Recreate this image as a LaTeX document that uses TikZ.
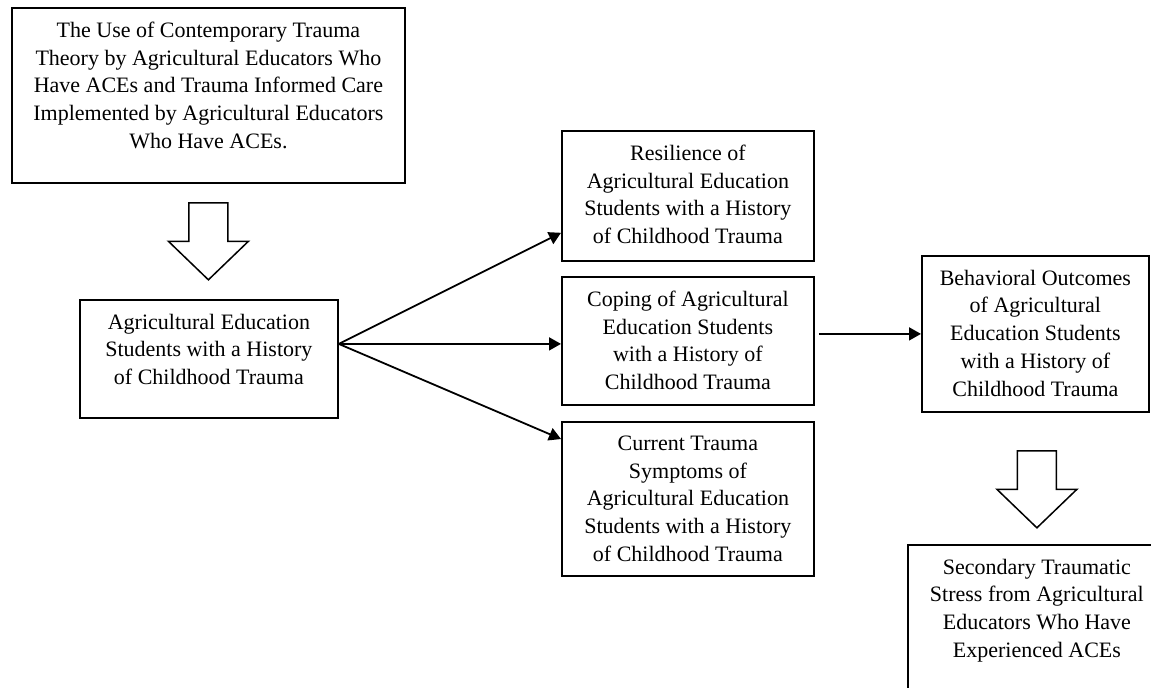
\documentclass[tikz,border=0pt]{standalone}
\usepackage{fontspec}
\setmainfont{Liberation Serif}
\usetikzlibrary{arrows.meta}

\tikzset{
  box/.style={draw, line width=0.9pt, anchor=north west, inner sep=0pt},
  boxtext/.style={anchor=north, align=center, inner sep=0pt,
    font=\fontsize{11}{13.9}\selectfont},
  arr/.style={line width=0.9pt, -{Triangle[length=6pt,width=6.5pt]}},
  hollowarrow/.pic={
    \draw[line width=0.75pt, fill=white] (-9.75,0) -- (-9.75,19.25) -- (-20,19.25)
      -- (0,38.5) -- (20,19.25) -- (9.75,19.25) -- (9.75,0) -- cycle;
  }
}

\begin{document}
\begin{tikzpicture}[x=1pt,y=-1pt]
        \clip (0,0) rectangle (575.5,343.5);
        % boxes
        \node[box, minimum width=196.5pt, minimum height=87.5pt] (use) at (5.5,3.5) {};
        \node[box, minimum width=129pt, minimum height=59pt] (stud) at (39.5,149.5) {};
        \node[box, minimum width=126pt, minimum height=65pt] (res) at (280.5,65) {};
        \node[box, minimum width=126pt, minimum height=64pt] (cop) at (280.5,138) {};
        \node[box, minimum width=126pt, minimum height=77pt] (cur) at (280.5,210.5) {};
        \node[box, minimum width=113.5pt, minimum height=78pt] (outc) at (460.5,127.5) {};
        \node[box, minimum width=129pt, minimum height=90pt] (sec) at (453.5,272) {};
        % texts
        \node[boxtext] (use-t) at ([yshift=-7.2pt]use.north) {The Use of Contemporary Trauma\\Theory by Agricultural Educators Who\\Have ACEs and Trauma Informed Care\\Implemented by Agricultural Educators\\Who Have ACEs.};
        \node[boxtext] (stud-t) at ([yshift=-7.2pt]stud.north) {Agricultural Education\\Students with a History\\of Childhood Trauma};
        \node[boxtext] (res-t) at ([yshift=-7.2pt]res.north) {Resilience of\\Agricultural Education\\Students with a History\\of Childhood Trauma};
        \node[boxtext] (cop-t) at ([yshift=-7.2pt]cop.north) {Coping of Agricultural\\Education Students\\with a History of\\Childhood Trauma};
        \node[boxtext] (cur-t) at ([yshift=-7.2pt]cur.north) {Current Trauma\\Symptoms of\\Agricultural Education\\Students with a History\\of Childhood Trauma};
        \node[boxtext] (outc-t) at ([yshift=-7.2pt]outc.north) {Behavioral Outcomes\\of Agricultural\\Education Students\\with a History of\\Childhood Trauma};
        \node[boxtext] (sec-t) at ([yshift=-7.2pt]sec.north) {Secondary Traumatic\\Stress from Agricultural\\Educators Who Have\\Experienced ACEs};
        % arrows
        \coordinate (fork) at ([yshift=7.5pt]stud.east);
        \draw[arr] (fork) -- ([yshift=14.5pt]res.south west);
        \draw[arr] (fork) -- (cop.west |- fork);
        \draw[arr] (fork) -- ([yshift=-9pt]cur.north west);
        \draw[arr] ([xshift=2pt]cop.east |- outc.west) -- (outc.west);
        \pic at ([yshift=-9.5pt]use.south) {hollowarrow};
        \pic at ([xshift=0.75pt,yshift=-19pt]outc.south) {hollowarrow};
\end{tikzpicture}
\end{document}
